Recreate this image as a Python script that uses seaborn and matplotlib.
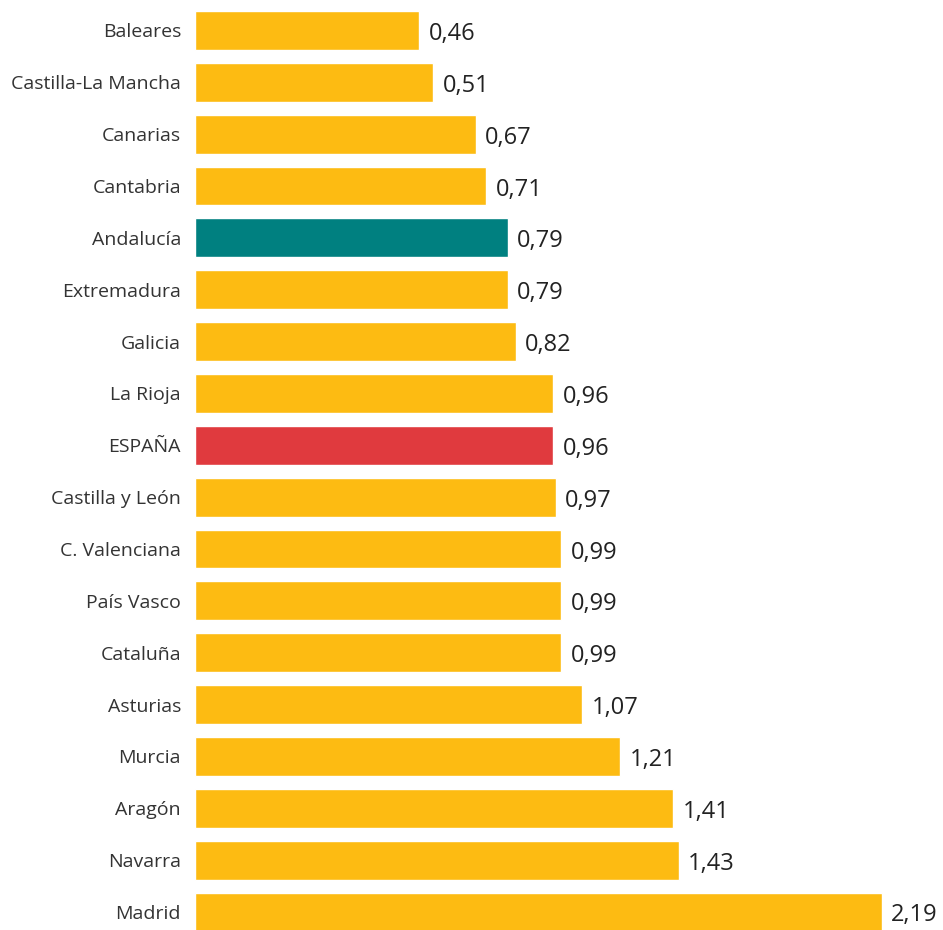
import numpy as np
import pandas as pd
import matplotlib
matplotlib.use('Agg')
import matplotlib.pyplot as plt
import seaborn as sns

# Datos del gráfico
REGIONES = [
    'Baleares', 'Castilla-La Mancha', 'Canarias', 'Cantabria', 'Andalucía',
    'Extremadura', 'Galicia', 'La Rioja', 'ESPAÑA', 'Castilla y León',
    'C. Valenciana', 'País Vasco', 'Cataluña', 'Asturias', 'Murcia',
    'Aragón', 'Navarra', 'Madrid'
]
VALORES = [0.46, 0.51, 0.67, 0.71, 0.79, 0.79, 0.82, 0.96, 0.96, 0.97,
           0.99, 0.99, 0.99, 1.07, 1.21, 1.41, 1.43, 2.19]

AMARILLO = '#FDBB12'
VERDE = '#008080'
ROJO = '#E03A3E'
DESTACADOS = {'Andalucía': VERDE, 'ESPAÑA': ROJO}

# las barras del original no arrancan en cero
BASE = -0.38

sns.set_theme(style='white')
plt.rcParams['font.family'] = ['Open Sans', 'DejaVu Sans']

df = pd.DataFrame({'region': REGIONES, 'valor': VALORES})
df['largo'] = df['valor'] - BASE
colores = [DESTACADOS.get(r, AMARILLO) for r in REGIONES]

fig = plt.figure(figsize=(9.43, 9.30), dpi=100)
ax = fig.add_axes([195 / 943, 0, 1 - 195 / 943, 1])

sns.barplot(data=df, x='largo', y='region', hue='region', palette=colores,
            order=REGIONES, hue_order=REGIONES, width=0.75, legend=False,
            saturation=1, ax=ax)

# etiquetas de valor, un poco por debajo del centro como en el original
for cont, v in zip(ax.containers, VALORES):
    barra = cont.patches[0]
    ax.annotate(f'{v:.2f}'.replace('.', ','),
                (barra.get_x() + barra.get_width(), barra.get_y() + barra.get_height() / 2),
                xytext=(7, -2.5), textcoords='offset points',
                ha='left', va='center', fontsize=17, color='#222222')

ax.set_xlim(0, 2.80)
ax.set_ylim(17.347, -0.588)
ax.set_xlabel('')
ax.set_ylabel('')
ax.set_xticks([])
ax.tick_params(axis='y', length=0, pad=10, labelsize=14, labelcolor='#333333')
sns.despine(ax=ax, left=True, bottom=True)

fig.savefig('out.png', dpi=100)
